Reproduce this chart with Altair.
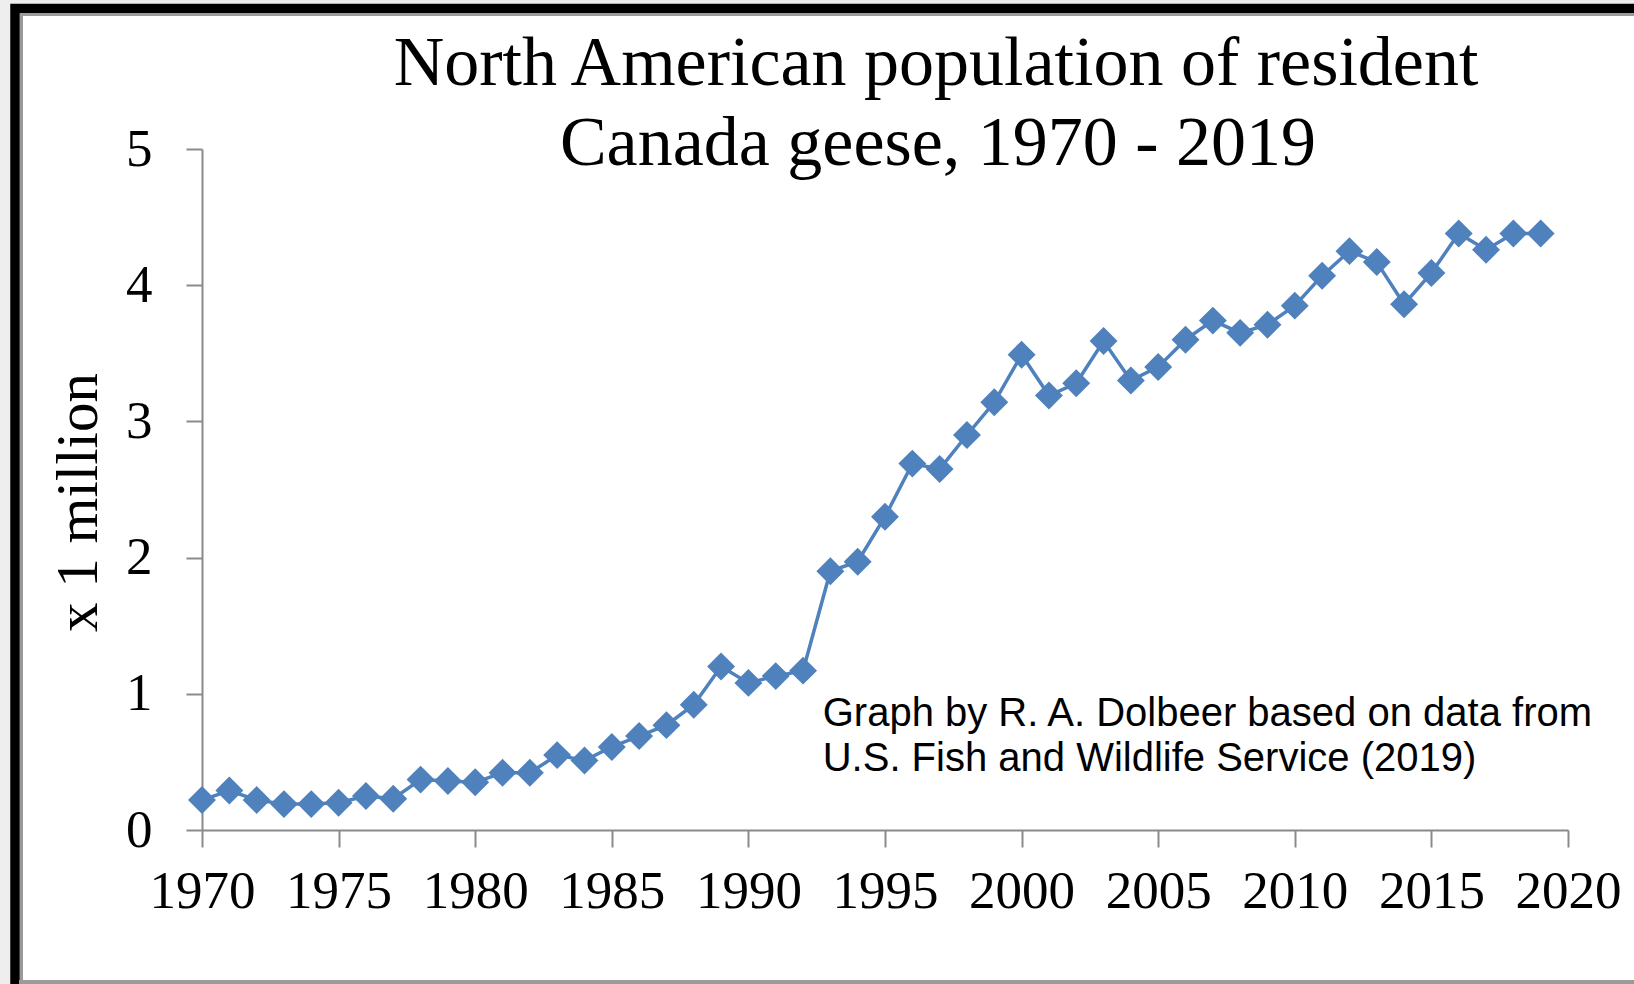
import altair as alt
import pandas as pd

# ---- data ----
years = list(range(1970, 2020))
population_millions = [
    0.22, 0.29, 0.22, 0.19, 0.19, 0.20, 0.25, 0.23, 0.37, 0.36,
    0.35, 0.42, 0.42, 0.55, 0.51, 0.61, 0.69, 0.77, 0.92, 1.20,
    1.08, 1.13, 1.17, 1.90, 1.97, 2.30, 2.69, 2.65, 2.90, 3.14,
    3.49, 3.19, 3.28, 3.59, 3.30, 3.40, 3.60, 3.74, 3.65, 3.71,
    3.85, 4.07, 4.25, 4.17, 3.86, 4.09, 4.38, 4.26, 4.38, 4.38,
]
x_ticks = list(range(1970, 2021, 5))
y_ticks = [0, 1, 2, 3, 4, 5]

title_lines = ["North American population of resident", "Canada geese, 1970 - 2019"]
y_title = "x 1 million"
credit_lines = ["Graph by R. A. Dolbeer based on data from",
                "U.S. Fish and Wildlife Service (2019)"]
credit_anchor_year = 1992.72
credit_anchor_values = [0.764, 0.433]

df = pd.DataFrame({"year": years, "pop": population_millions})
credit_df = pd.DataFrame({"year": [credit_anchor_year] * 2,
                          "pop": credit_anchor_values,
                          "text": credit_lines})

BLUE = "#4F81BD"
AXIS_GRAY = "#8a8a8a"
SERIF = "Liberation Serif"

x_enc = alt.X("year:Q",
              scale=alt.Scale(domain=[1970, 2020], nice=False, zero=False),
              axis=alt.Axis(values=x_ticks, format="d", title=None,
                            labelFont=SERIF, labelFontSize=53, labelColor="black",
                            tickSize=17, tickWidth=2, tickColor=AXIS_GRAY,
                            domainColor=AXIS_GRAY, domainWidth=2,
                            labelPadding=18, grid=False, labelFlush=False))
y_enc = alt.Y("pop:Q",
              scale=alt.Scale(domain=[0, 5], nice=False),
              axis=alt.Axis(values=y_ticks, format="d", title=y_title,
                            labelFont=SERIF, labelFontSize=53, labelColor="black",
                            tickSize=16, tickWidth=2, tickColor=AXIS_GRAY,
                            domainColor=AXIS_GRAY, domainWidth=2,
                            labelPadding=34, grid=False,
                            titleFont=SERIF, titleFontSize=59, titleFontWeight="normal",
                            titleColor="black", titlePadding=17, titleY=353))

line = alt.Chart(df).mark_line(color=BLUE, strokeWidth=3.5).encode(x=x_enc, y=y_enc)
points = alt.Chart(df).mark_point(shape="diamond", filled=True, size=780,
                                  color=BLUE, opacity=1).encode(x="year:Q", y="pop:Q")
credit = alt.Chart(credit_df).mark_text(
    align="left", baseline="alphabetic", font="Liberation Sans",
    fontSize=40, color="black").encode(x="year:Q", y="pop:Q", text="text:N")

one = alt.Data(values=[{"k": 1}])
# chart title, two centred lines
title1 = alt.Chart(one).mark_text(
    text=title_lines[0], font=SERIF, fontSize=70, align="center",
    baseline="alphabetic", color="black").encode(x=alt.value(734), y=alt.value(-64))
title2 = alt.Chart(one).mark_text(
    text=title_lines[1], font=SERIF, fontSize=70, align="center",
    baseline="alphabetic", color="black").encode(x=alt.value(736), y=alt.value(16))

# slide-frame decoration
outer_gray = alt.Chart(one).mark_rect(fillOpacity=0, stroke="#eeeeee", strokeWidth=20).encode(
    x=alt.value(-202), x2=alt.value(1520), y=alt.value(-149), y2=alt.value(900))
black_frame = alt.Chart(one).mark_rect(fillOpacity=0, stroke="black", strokeWidth=9.5).encode(
    x=alt.value(-187), x2=alt.value(1520), y=alt.value(-140.5), y2=alt.value(900))
inner_gray = alt.Chart(one).mark_rect(fillOpacity=0, stroke="#9a9a9a", strokeWidth=3).encode(
    x=alt.value(-180.5), x2=alt.value(1520), y=alt.value(-134.5), y2=alt.value(900))
bottom_line = alt.Chart(one).mark_rule(stroke="#9a9a9a", strokeWidth=4).encode(
    x=alt.value(-183), x2=alt.value(1520), y=alt.value(833))

chart = alt.layer(outer_gray, black_frame, inner_gray, bottom_line,
                  line, points, credit, title1, title2).properties(
    width=1366, height=681,
    padding={"left": 202, "top": 149, "right": 66, "bottom": 154},
    autosize=alt.AutoSizeParams(type="none"),
    background="white",
).configure_view(strokeWidth=0)

chart.save("out.html", embed_options={"renderer": "svg", "actions": False})
